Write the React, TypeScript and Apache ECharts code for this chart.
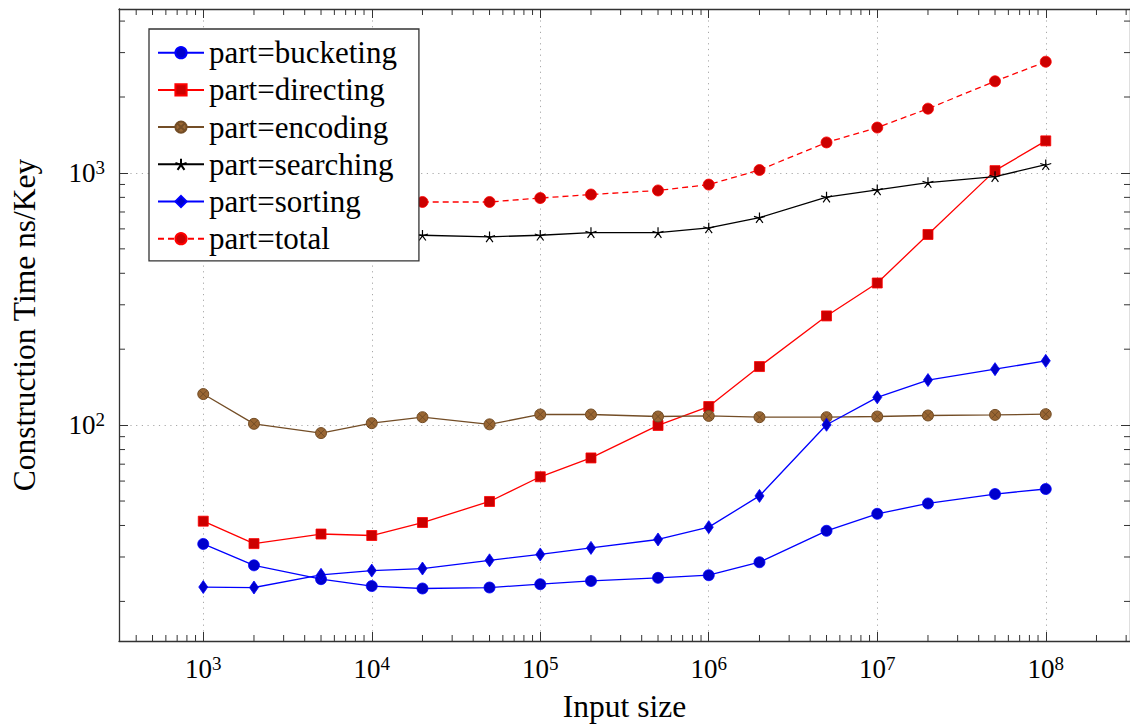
import { useEffect, useRef } from 'react';
import * as echarts from 'echarts';

const sizes = [1e3, 2e3, 5e3, 1e4, 2e4, 5e4, 1e5, 2e5, 5e5, 1e6, 2e6, 5e6, 1e7, 2e7, 5e7, 1e8];
const bucketing = [33.8, 27.8, 24.5, 23.0, 22.5, 22.7, 23.4, 24.1, 24.8, 25.4, 28.6, 38.1, 44.5, 48.9, 53.3, 55.8];
const directing = [41.6, 33.9, 37.0, 36.5, 41.1, 49.8, 62.4, 74.1, 99.7, 118.5, 170.7, 271, 366, 570, 1021, 1340];
const encoding = [132.8, 101.2, 93.0, 101.8, 107.5, 100.7, 110.2, 110.2, 108.2, 108.8, 107.5, 107.5, 108.2, 109.2, 109.8, 110.5];
const searching = [580, 575, 565, 570, 566, 558, 566, 580, 580, 605, 665, 802, 857, 916, 967, 1078];
const sorting = [22.8, 22.7, 25.5, 26.5, 27.0, 29.1, 30.7, 32.6, 35.2, 39.4, 52.4, 100.3, 128.9, 150.9, 166.7, 179.8];
const total = [811, 761, 745, 758, 767, 767, 795, 821, 852, 899, 1027, 1321, 1513, 1798, 2309, 2760];

const seriesNames = ['part=bucketing', 'part=directing', 'part=encoding', 'part=searching', 'part=sorting', 'part=total'];

const X_MIN = Math.pow(10, 2.5);
const X_MAX = Math.pow(10, 8.5);
const Y_MIN = Math.pow(10, 1.144);
const Y_MAX = Math.pow(10, 3.65);

const xMinorTicks: number[] = [];
for (let k = 2; k <= 8; k++) {
  for (let m = 2; m <= 9; m++) {
    const v = m * Math.pow(10, k);
    if (v > X_MIN && v < X_MAX) xMinorTicks.push(v);
  }
}
const yMinorTicks: number[] = [];
for (let k = 1; k <= 3; k++) {
  for (let m = 2; m <= 9; m++) {
    const v = m * Math.pow(10, k);
    if (v > Y_MIN && v < Y_MAX) yMinorTicks.push(v);
  }
}

const FONT = '"Liberation Serif", "Times New Roman", serif';
const OTIMES = 'path://M0,-10A10,10,0,1,1,0,10A10,10,0,1,1,0,-10ZM-7.07,-7.07L7.07,7.07M-7.07,7.07L7.07,-7.07';
const STAR = 'path://M0,0L0,-10M0,0L9.51,-3.09M0,0L5.88,8.09M0,0L-5.88,8.09M0,0L-9.51,-3.09';

const pair = (vals: number[]) => sizes.map((s, i) => [s, vals[i]]);

const expLabel = (v: number) => `{b|10}{s|${Math.round(Math.log10(v))}}`;
const labelRich = {
  b: { fontSize: 27, lineHeight: 30, fontFamily: FONT, color: '#000' },
  s: { fontSize: 19, lineHeight: 18, verticalAlign: 'top', fontFamily: FONT, color: '#000' },
};

const AXIS_COLOR = '#333';

export default function App() {
  const ref = useRef<HTMLDivElement>(null);
  useEffect(() => {
    if (!ref.current) return;
    const chart = echarts.init(ref.current, undefined, { renderer: 'svg' });
    const baseX = {
      type: 'log',
      min: X_MIN,
      max: X_MAX,
      logBase: 10,
      axisLine: { show: true, lineStyle: { color: AXIS_COLOR, width: 1.3 } },
      axisTick: { show: true, inside: true, length: 9, lineStyle: { color: AXIS_COLOR, width: 1 } },
      minorTick: { show: false },
      splitLine: { show: false },
    };
    const baseY = {
      type: 'log',
      min: Y_MIN,
      max: Y_MAX,
      logBase: 10,
      axisLine: { show: true, lineStyle: { color: AXIS_COLOR, width: 1.3 } },
      axisTick: { show: true, inside: true, length: 9, lineStyle: { color: AXIS_COLOR, width: 1 } },
      minorTick: { show: false },
      splitLine: { show: false },
    };
    const gridLine = { show: true, lineStyle: { color: '#a8a8a8', width: 1, type: [1.2, 4.5] } };

    const mkLine = (name: string, vals: number[], opts: any) => ({
      type: 'line',
      name,
      data: pair(vals),
      showSymbol: true,
      ...opts,
    });

    chart.setOption({
      animation: false,
      backgroundColor: '#fff',
      grid: { left: 117.7, top: 9, right: -3.4, bottom: 81.3 },
      xAxis: [
        {
          ...baseX,
          position: 'bottom',
          name: 'Input size',
          nameLocation: 'middle',
          nameGap: 49,
          nameTextStyle: { fontSize: 31.5, fontFamily: FONT, color: '#000' },
          axisLabel: {
            show: true,
            margin: 13,
            interval: 0,
            showMinLabel: false,
            showMaxLabel: false,
            formatter: expLabel,
            rich: labelRich,
          },
          splitLine: gridLine,
        },
        {
          ...baseX,
          position: 'top',
          axisLabel: { show: false },
        },
      ],
      yAxis: [
        {
          ...baseY,
          position: 'left',
          name: 'Construction Time ns/Key',
          nameLocation: 'middle',
          nameGap: 79,
          nameTextStyle: { fontSize: 31.5, fontFamily: FONT, color: '#000' },
          axisLabel: {
            show: true,
            margin: 14,
            interval: 0,
            showMinLabel: false,
            showMaxLabel: false,
            formatter: expLabel,
            rich: labelRich,
          },
          splitLine: gridLine,
        },
        {
          ...baseY,
          position: 'right',
          axisLabel: { show: false },
        },
      ],
      legend: {
        data: seriesNames,
        orient: 'vertical',
        left: 149,
        top: 29,
        padding: [8.2, 22, 6.7, 8],
        backgroundColor: '#fff',
        borderColor: '#333',
        borderWidth: 1.3,
        itemGap: 6.2,
        itemWidth: 46,
        itemHeight: 14,
        textStyle: { fontSize: 31, lineHeight: 30, fontFamily: FONT, color: '#000' },
        selectedMode: false,
      },
      series: [
        mkLine(seriesNames[0], bucketing, {
          symbol: 'circle',
          symbolSize: 11,
          lineStyle: { color: '#0000ff', width: 1.3 },
          itemStyle: { color: '#0000cc', borderColor: '#0000ff', borderWidth: 0.8 },
        }),
        mkLine(seriesNames[1], directing, {
          symbol: 'rect',
          symbolSize: 10,
          lineStyle: { color: '#ff0000', width: 1.3 },
          itemStyle: { color: '#cc0000', borderColor: '#ff0000', borderWidth: 0.8 },
        }),
        mkLine(seriesNames[2], encoding, {
          symbol: OTIMES,
          symbolSize: 11,
          lineStyle: { color: '#734d26', width: 1.3 },
          itemStyle: { color: '#996633', borderColor: '#734d26', borderWidth: 1 },
        }),
        mkLine(seriesNames[3], searching, {
          symbol: STAR,
          symbolSize: 11,
          symbolKeepAspect: true,
          lineStyle: { color: '#000000', width: 1.3 },
          itemStyle: { color: '#000000', borderColor: '#000000', borderWidth: 1.2 },
        }),
        mkLine(seriesNames[4], sorting, {
          symbol: 'diamond',
          symbolSize: [9, 13],
          lineStyle: { color: '#0000ff', width: 1.3 },
          itemStyle: { color: '#0000cc', borderColor: '#0000ff', borderWidth: 0.8 },
        }),
        mkLine(seriesNames[5], total, {
          symbol: 'circle',
          symbolSize: 11,
          lineStyle: { color: '#ff0000', width: 1.3, type: [6, 4] },
          itemStyle: { color: '#cc0000', borderColor: '#ff0000', borderWidth: 0.8 },
        }),
        {
          type: 'custom',
          name: 'xminor',
          coordinateSystem: 'cartesian2d',
          silent: true,
          z: 1,
          data: xMinorTicks.map((v) => [v, 100]),
          renderItem: (params: any, api: any) => {
            const cs = params.coordSys;
            const x = api.coord([api.value(0), 100])[0];
            const st = { stroke: AXIS_COLOR, lineWidth: 1 };
            return {
              type: 'group',
              children: [
                { type: 'line', shape: { x1: x, y1: cs.y + cs.height, x2: x, y2: cs.y + cs.height - 6 }, style: st },
                { type: 'line', shape: { x1: x, y1: cs.y, x2: x, y2: cs.y + 6 }, style: st },
              ],
            };
          },
        },
        {
          type: 'custom',
          name: 'yminor',
          coordinateSystem: 'cartesian2d',
          silent: true,
          z: 1,
          data: yMinorTicks.map((v) => [1000, v]),
          renderItem: (params: any, api: any) => {
            const cs = params.coordSys;
            const y = api.coord([1000, api.value(1)])[1];
            const st = { stroke: AXIS_COLOR, lineWidth: 1 };
            return {
              type: 'group',
              children: [
                { type: 'line', shape: { x1: cs.x, y1: y, x2: cs.x + 6, y2: y }, style: st },
                { type: 'line', shape: { x1: cs.x + cs.width, y1: y, x2: cs.x + cs.width - 6, y2: y }, style: st },
              ],
            };
          },
        },
      ],
    } as any);
    return () => chart.dispose();
  }, []);
  return <div ref={ref} style={{ position: 'absolute', left: 0, top: 0, width: 1130, height: 727 }} />;
}
